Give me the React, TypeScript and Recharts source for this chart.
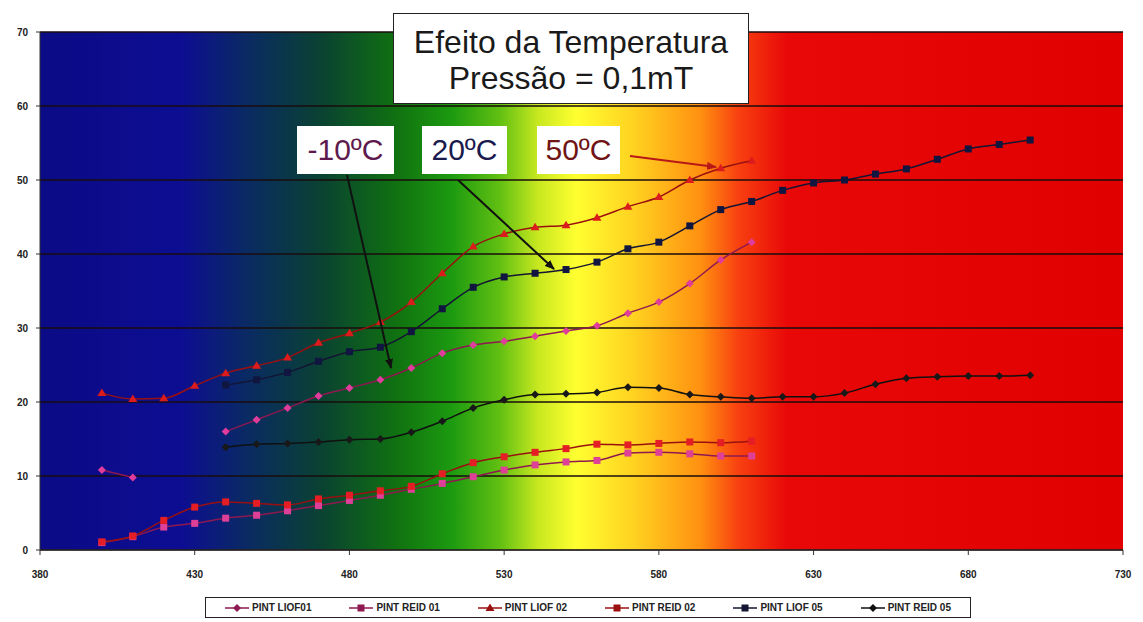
import React from "react";
import {
  LineChart,
  Line,
  XAxis,
  YAxis,
  CartesianGrid,
} from "recharts";

// wavelength (nm)
const xs = [400, 410, 420, 430, 440, 450, 460, 470, 480, 490, 500, 510, 520, 530, 540, 550, 560, 570, 580, 590, 600, 610, 620, 630, 640, 650, 660, 670, 680, 690, 700];

const liof01 = [10.8, 9.8, null, null, 16, 17.6, 19.2, 20.8, 21.9, 23, 24.6, 26.6, 27.7, 28.2, 28.9, 29.6, 30.3, 32, 33.5, 36, 39.2, 41.6, null, null, null, null, null, null, null, null, null];
const reid01 = [1.0, 1.8, 3.1, 3.6, 4.3, 4.7, 5.3, 6.0, 6.7, 7.4, 8.2, 9.0, 9.9, 10.8, 11.5, 11.9, 12.1, 13.1, 13.2, 13.0, 12.7, 12.7, null, null, null, null, null, null, null, null, null];
const liof02 = [21.2, 20.4, 20.5, 22.2, 23.9, 24.9, 26, 28, 29.3, 30.8, 33.5, 37.4, 41, 42.7, 43.6, 43.9, 44.9, 46.4, 47.7, 50, 51.6, 52.6, null, null, null, null, null, null, null, null, null];
const reid02 = [1.1, 1.9, 4.0, 5.8, 6.5, 6.3, 6.1, 6.9, 7.4, 8.0, 8.6, 10.3, 11.8, 12.6, 13.2, 13.7, 14.3, 14.2, 14.4, 14.6, 14.5, 14.7, null, null, null, null, null, null, null, null, null];
const liof05 = [null, null, null, null, 22.3, 23, 24, 25.5, 26.8, 27.4, 29.5, 32.6, 35.5, 36.9, 37.4, 37.9, 38.9, 40.7, 41.6, 43.8, 46, 47.1, 48.6, 49.6, 50, 50.8, 51.5, 52.8, 54.2, 54.8, 55.4];
const reid05 = [null, null, null, null, 13.9, 14.3, 14.4, 14.6, 14.9, 15, 15.9, 17.4, 19.2, 20.3, 21, 21.1, 21.3, 22, 21.9, 21, 20.7, 20.5, 20.7, 20.7, 21.2, 22.4, 23.2, 23.4, 23.5, 23.5, 23.6];

const xTicks = [380, 430, 480, 530, 580, 630, 680, 730];
const yTicks = [0, 10, 20, 30, 40, 50, 60, 70];

const data = xs.map((x, i) => ({
  x,
  liof01: liof01[i],
  reid01: reid01[i],
  liof02: liof02[i],
  reid02: reid02[i],
  liof05: liof05[i],
  reid05: reid05[i],
}));

type Shape = "diamond" | "square" | "triangle";

const series: { key: string; name: string; stroke: string; fill: string; shape: Shape }[] = [
  { key: "liof01", name: "PINT LIOF01", stroke: "#8e1850", fill: "#e03c9c", shape: "diamond" },
  { key: "reid01", name: "PINT REID 01", stroke: "#8e1850", fill: "#de4098", shape: "square" },
  { key: "liof02", name: "PINT LIOF 02", stroke: "#9a1010", fill: "#dc1c1c", shape: "triangle" },
  { key: "reid02", name: "PINT REID 02", stroke: "#9a1010", fill: "#e41e24", shape: "square" },
  { key: "liof05", name: "PINT LIOF 05", stroke: "#141433", fill: "#101640", shape: "square" },
  { key: "reid05", name: "PINT REID 05", stroke: "#101010", fill: "#181818", shape: "diamond" },
];

function Marker({ cx, cy, shape, fill }: { cx: number; cy: number; shape: Shape; fill: string }) {
  if (shape === "diamond")
    return <polygon points={`${cx},${cy - 4} ${cx + 4},${cy} ${cx},${cy + 4} ${cx - 4},${cy}`} fill={fill} />;
  if (shape === "triangle")
    return <polygon points={`${cx},${cy - 4.5} ${cx + 4.5},${cy + 3} ${cx - 4.5},${cy + 3}`} fill={fill} />;
  return <rect x={cx - 3.5} y={cy - 3.5} width={7} height={7} fill={fill} />;
}

const tickStyle = { fill: "#222", fontSize: 10, fontWeight: 700, fontFamily: "Liberation Sans, Arial, sans-serif" };

function LegendBox() {
  return (
    <div
      style={{
        position: "absolute",
        left: 205,
        top: 597,
        width: 764,
        height: 19,
        border: "1px solid #222",
        background: "#fff",
        display: "flex",
        justifyContent: "space-around",
        alignItems: "center",
        fontFamily: "Liberation Sans Narrow, Liberation Sans, Arial, sans-serif",
        fontSize: 10,
        fontWeight: 700,
        color: "#222",
      }}
    >
      {series.map((s) => (
        <div key={s.key} style={{ display: "flex", alignItems: "center" }}>
          <svg width={24} height={10} style={{ marginRight: 3 }}>
            <line x1={0} y1={5} x2={24} y2={5} stroke={s.stroke} strokeWidth={1.5} />
            <Marker cx={12} cy={5} shape={s.shape} fill={s.stroke} />
          </svg>
          <span>{s.name}</span>
        </div>
      ))}
    </div>
  );
}

function Annotations() {
  const label = (left: number, text: string, color: string, width: number) => (
    <div
      style={{
        position: "absolute",
        left,
        top: 126,
        width,
        height: 48,
        background: "#fff",
        color,
        fontFamily: "Liberation Sans, Arial, sans-serif",
        fontSize: 30,
        lineHeight: "48px",
        textAlign: "center",
      }}
    >
      {text}
    </div>
  );
  return (
    <>
      <div
        style={{
          position: "absolute",
          left: 393,
          top: 13,
          width: 356,
          height: 91,
          background: "#fff",
          border: "1.5px solid #222",
          fontFamily: "Liberation Sans, Arial, sans-serif",
          fontSize: 32,
          lineHeight: "36px",
          textAlign: "center",
          color: "#1a1a1a",
          paddingTop: 10,
          boxSizing: "border-box",
        }}
      >
        Efeito da Temperatura
        <br />
        Pressão = 0,1mT
      </div>
      {label(297, "-10ºC", "#5e1a4c", 97)}
      {label(422, "20ºC", "#1a1a4e", 85)}
      {label(537, "50ºC", "#701414", 83)}
      <svg width={1143} height={622} style={{ position: "absolute", left: 0, top: 0, pointerEvents: "none" }}>
        <defs>
          <marker id="arrBlack" markerWidth="10" markerHeight="8" refX="9" refY="4" orient="auto" markerUnits="userSpaceOnUse">
            <polygon points="0,0 10,4 0,8" fill="#111" />
          </marker>
          <marker id="arrRed" markerWidth="10" markerHeight="8" refX="9" refY="4" orient="auto" markerUnits="userSpaceOnUse">
            <polygon points="0,0 10,4 0,8" fill="#b81818" />
          </marker>
        </defs>
        <line x1={347} y1={175} x2={391} y2={368} stroke="#111" strokeWidth={2} markerEnd="url(#arrBlack)" />
        <line x1={458} y1={180} x2={554} y2={269} stroke="#111" strokeWidth={2} markerEnd="url(#arrBlack)" />
        <line x1={630} y1={156} x2={716} y2={167} stroke="#b81818" strokeWidth={2} markerEnd="url(#arrRed)" />
      </svg>
    </>
  );
}

export default function App() {
  return (
    <div style={{ position: "absolute", left: 0, top: 0, width: 1143, height: 622, background: "#fff" }}>
      <LineChart width={1143} height={622} data={data} margin={{ top: 32, right: 20, bottom: 42, left: 0 }}>
        <defs>
          <linearGradient id="spectrum" x1="0" y1="0" x2="1" y2="0">
            <stop offset="0" stopColor="#0b0b86" />
            <stop offset="0.13" stopColor="#0d0d92" />
            <stop offset="0.19" stopColor="#0a2a64" />
            <stop offset="0.26" stopColor="#0a4232" />
            <stop offset="0.33" stopColor="#107210" />
            <stop offset="0.38" stopColor="#1c9a10" />
            <stop offset="0.425" stopColor="#62c012" />
            <stop offset="0.46" stopColor="#c8e820" />
            <stop offset="0.495" stopColor="#ffff30" />
            <stop offset="0.55" stopColor="#ffd020" />
            <stop offset="0.61" stopColor="#ff9010" />
            <stop offset="0.645" stopColor="#f84010" />
            <stop offset="0.69" stopColor="#e80808" />
            <stop offset="1" stopColor="#e00000" />
          </linearGradient>
        </defs>
        <CartesianGrid vertical={false} stroke="#1a0d0d" strokeWidth={1.5} fill="url(#spectrum)" fillOpacity={1} />
        <XAxis
          dataKey="x"
          type="number"
          domain={[380, 730]}
          ticks={xTicks}
          tick={tickStyle}
          tickSize={5}
          tickMargin={16}
          height={30}
          stroke="#333"
          allowDataOverflow
        />
        <YAxis
          type="number"
          domain={[0, 70]}
          ticks={yTicks}
          tick={tickStyle}
          tickSize={4}
          tickMargin={8}
          width={40}
          stroke="#333"
        />
        {series.map((s) => (
          <Line
            key={s.key}
            dataKey={s.key}
            name={s.name}
            type="monotone"
            stroke={s.stroke}
            strokeWidth={1.5}
            connectNulls={false}
            isAnimationActive={false}
            activeDot={false}
            dot={(p: any) => {
              if (p.cx == null || p.cy == null || p.value == null) return <g key={`${s.key}-${p.index}`} />;
              return (
                <g key={`${s.key}-${p.index}`}>
                  <Marker cx={p.cx} cy={p.cy} shape={s.shape} fill={s.fill} />
                </g>
              );
            }}
          />
        ))}
      </LineChart>
      <Annotations />
      <LegendBox />
    </div>
  );
}
